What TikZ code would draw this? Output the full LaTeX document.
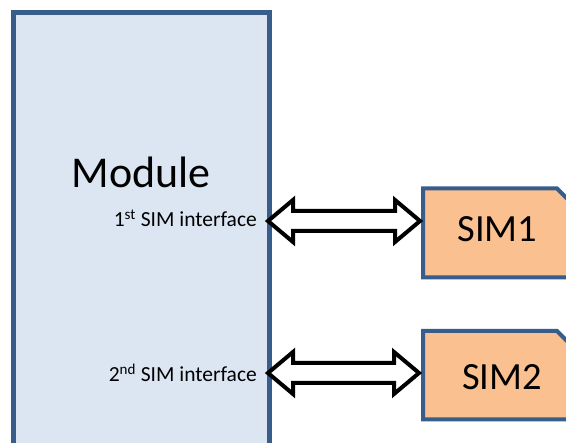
\documentclass[tikz,border=0pt]{standalone}
\usepackage{fontspec}
\setmainfont{Carlito}
\usetikzlibrary{calc}
\definecolor{modfill}{HTML}{DCE6F2}
\definecolor{bordblue}{HTML}{385D8A}
\definecolor{simfill}{HTML}{FAC090}
\tikzset{
  modbox/.style={draw=bordblue, line width=5pt, fill=modfill},
  simbox/.style={draw=bordblue, line width=4pt, fill=simfill, line join=miter},
  dblarr/.style={draw=black, line width=4pt, fill=white, line join=miter},
  lbl/.style={inner sep=0pt, font=\fontsize{21.5}{24}\selectfont},
  simtxt/.style={inner sep=0pt, font=\fontsize{38.5}{42}\selectfont},
  modtxt/.style={inner sep=0pt, font=\fontsize{44}{48}\selectfont},
}
\newcommand\mydblarrow[2]{%
  \path[dblarr] (#1)
    -- ($(#1)+(25pt,21pt)$) -- ($(#1)+(25pt,10pt)$)
    -- ($(#2)+(-25pt,10pt)$) -- ($(#2)+(-25pt,21pt)$)
    -- (#2)
    -- ($(#2)+(-25pt,-21pt)$) -- ($(#2)+(-25pt,-10pt)$)
    -- ($(#1)+(25pt,-10pt)$) -- ($(#1)+(25pt,-21pt)$) -- cycle;}
\begin{document}
\begin{tikzpicture}[x=1pt,y=1pt]
\useasboundingbox (0,0) rectangle (566,443);
\clip (0,0) rectangle (566,443);
% Module
\path[modbox] (13,-20) rectangle (269,430.5);
\node[modtxt, anchor=base] (module) at (141,255) {Module};
\node[lbl, anchor=base east] (if1) at (257,216) {1\textsuperscript{st} SIM interface};
\node[lbl, anchor=base east] (if2) at (257,61) {2\textsuperscript{nd} SIM interface};
% SIM cards
\path[simbox] (423,165.5) -- (423,254.5) -- (557,254.5) -- (580,231.5) -- (580,165.5) -- cycle;
\path[simbox] (423,23.5) -- (423,112) -- (557,112) -- (580,89) -- (580,23.5) -- cycle;
\node[simtxt, anchor=base] (sim1) at (497.5,201) {SIM1};
\node[simtxt, anchor=base] (sim2) at (502,53) {SIM2};
% arrows
\coordinate (a1l) at (268,222);
\coordinate (a1r) at (420,222);
\coordinate (a2l) at (268,70);
\coordinate (a2r) at (419,70);
\mydblarrow{a1l}{a1r}
\mydblarrow{a2l}{a2r}
\end{tikzpicture}
\end{document}
